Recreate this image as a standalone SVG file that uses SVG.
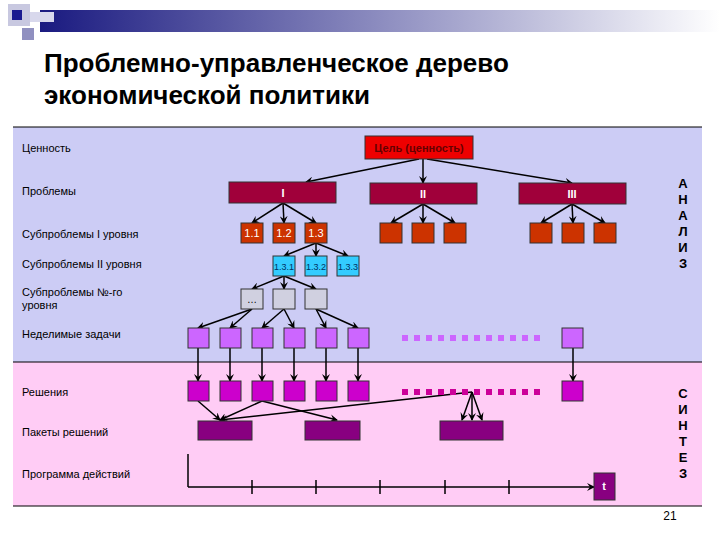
<svg xmlns="http://www.w3.org/2000/svg" width="720" height="540" viewBox="0 0 720 540">
<defs>
<marker id="ah" markerWidth="8" markerHeight="8" refX="7" refY="4" orient="auto" markerUnits="userSpaceOnUse"><path d="M0,0 L8,4 L0,8 L3,4 z" fill="#000"/></marker>
<linearGradient id="bar" x1="0" x2="1"><stop offset="0" stop-color="#1a1a80"/><stop offset="1" stop-color="#ffffff"/></linearGradient>
</defs>
<style>
text{font-family:"Liberation Sans",Arial,sans-serif}
.lab{font-size:11px;fill:#000}
.b{stroke:#333;stroke-width:1}
.lv1{fill:#a0003a}.org{fill:#cc3300}.cy{fill:#33ccff}.gr{fill:#d0d0e0}.p1{fill:#cc66ff}.p2{fill:#cc00cc}.pk{fill:#880080}
.w{fill:#fff;font-size:11px;text-anchor:middle}
.c line{stroke:#000;stroke-width:1.5;fill:none;marker-end:url(#ah)}
.vert{font-size:13px;font-weight:bold;text-anchor:middle}
</style>
<rect width="720" height="540" fill="#fff"/>
<rect x="40" y="10" width="680" height="22" fill="url(#bar)"/>
<rect x="8" y="4" width="22" height="22" fill="#c8c8e0"/>
<rect x="12" y="10" width="10" height="10" fill="#1a1a90"/>
<rect x="22" y="28" width="12" height="12" fill="#9090c0"/>
<rect x="30" y="12" width="24" height="10" fill="#d8d8ec"/>
<text x="44" y="72" font-size="26" font-weight="bold">Проблемно-управленческое дерево</text>
<text x="44" y="104" font-size="26" font-weight="bold">экономической политики</text>
<rect x="13" y="127" width="689" height="235" fill="#ccccf5"/>
<rect x="13" y="362" width="689" height="144" fill="#ffccf5"/>
<line x1="13" y1="127" x2="702" y2="127" stroke="#000"/>
<line x1="13" y1="362" x2="702" y2="362" stroke="#000"/>
<line x1="13" y1="506" x2="702" y2="506" stroke="#000"/>
<g id="labels" class="lab">
<text x="22" y="152">Ценность</text>
<text x="22" y="195">Проблемы</text>
<text x="22" y="238">Субпроблемы I уровня</text>
<text x="22" y="268">Субпроблемы II уровня</text>
<text x="22" y="296">Субпроблемы №-го</text>
<text x="22" y="309">уровня</text>
<text x="22" y="338">Неделимые задачи</text>
<text x="22" y="396">Решения</text>
<text x="22" y="436">Пакеты решений</text>
<text x="22" y="478">Программа действий</text>
</g>
<g id="side">
<text class="vert"><tspan x="683" y="188">А</tspan><tspan x="683" y="204">Н</tspan><tspan x="683" y="220">А</tspan><tspan x="683" y="236">Л</tspan><tspan x="683" y="252">И</tspan><tspan x="683" y="268">З</tspan></text>
<text class="vert"><tspan x="683" y="398">С</tspan><tspan x="683" y="414">И</tspan><tspan x="683" y="430">Н</tspan><tspan x="683" y="446">Т</tspan><tspan x="683" y="462">Е</tspan><tspan x="683" y="478">З</tspan></text>
</g>
<g id="connectors" class="c">
<line x1="419" y1="159" x2="306" y2="182"/><line x1="423" y1="159" x2="423" y2="183"/><line x1="427" y1="159" x2="572" y2="183"/>
<line x1="283" y1="203" x2="252" y2="223"/><line x1="283" y1="203" x2="284" y2="223"/><line x1="283" y1="203" x2="316" y2="223"/>
<line x1="423" y1="204" x2="391" y2="223"/><line x1="423" y1="204" x2="423" y2="223"/><line x1="423" y1="204" x2="455" y2="223"/>
<line x1="572" y1="204" x2="541" y2="223"/><line x1="572" y1="204" x2="573" y2="223"/><line x1="572" y1="204" x2="605" y2="223"/>
<line x1="316" y1="243" x2="284" y2="256"/><line x1="316" y1="243" x2="316" y2="256"/><line x1="316" y1="243" x2="348" y2="256"/>
<line x1="284" y1="276" x2="252" y2="289"/><line x1="284" y1="276" x2="284" y2="289"/><line x1="284" y1="276" x2="316" y2="289"/>
<line x1="252" y1="309" x2="198" y2="328"/><line x1="252" y1="309" x2="230" y2="328"/>
<line x1="284" y1="309" x2="262" y2="328"/><line x1="284" y1="309" x2="294" y2="328"/>
<line x1="316" y1="309" x2="326" y2="328"/><line x1="316" y1="309" x2="358" y2="328"/>
<line x1="198" y1="348" x2="198" y2="381"/><line x1="230" y1="348" x2="230" y2="381"/><line x1="262" y1="348" x2="262" y2="381"/><line x1="294" y1="348" x2="294" y2="381"/><line x1="326" y1="348" x2="326" y2="381"/><line x1="358" y1="348" x2="358" y2="381"/><line x1="573" y1="348" x2="573" y2="381"/>
<line x1="198" y1="401" x2="220" y2="420"/><line x1="262" y1="401" x2="220" y2="420"/><line x1="262" y1="401" x2="337" y2="420"/><line x1="472" y1="392" x2="220" y2="420"/>
<line x1="472" y1="392" x2="462" y2="420"/><line x1="472" y1="392" x2="472" y2="420"/><line x1="472" y1="392" x2="482" y2="420"/>
</g>
<g id="timeline" stroke="#000" stroke-width="1.5">
<line x1="188" y1="454" x2="188" y2="487"/><line x1="188" y1="487" x2="594" y2="487" marker-end="url(#ah)"/>
<line x1="252" y1="480" x2="252" y2="494"/><line x1="316" y1="480" x2="316" y2="494"/><line x1="380" y1="480" x2="380" y2="494"/><line x1="445" y1="480" x2="445" y2="494"/><line x1="509" y1="480" x2="509" y2="494"/>
</g>
<g id="goal"><rect class="b" x="365" y="136" width="108" height="23" fill="#ee0000"/><text x="419" y="152" font-size="11" font-weight="bold" fill="#600" text-anchor="middle">Цель (ценность)</text></g>
<g id="p1"><rect class="b lv1" x="229" y="182" width="107" height="21"/><text class="w" x="283" y="197" font-weight="bold">I</text></g>
<g id="p2"><rect class="b lv1" x="370" y="183" width="107" height="21"/><text class="w" x="423" y="198" font-weight="bold">II</text></g>
<g id="p3"><rect class="b lv1" x="519" y="183" width="107" height="21"/><text class="w" x="572" y="198" font-weight="bold">III</text></g>
<g id="s11"><rect class="b org" x="241" y="223" width="22" height="20"/><text class="w" x="252" y="237">1.1</text></g>
<g id="s12"><rect class="b org" x="273" y="223" width="22" height="20"/><text class="w" x="284" y="237">1.2</text></g>
<g id="s13"><rect class="b org" x="305" y="223" width="22" height="20"/><text class="w" x="316" y="237">1.3</text></g>
<g id="s2x"><rect class="b org" x="380" y="223" width="22" height="20"/><rect class="b org" x="412" y="223" width="22" height="20"/><rect class="b org" x="444" y="223" width="22" height="20"/></g>
<g id="s3x"><rect class="b org" x="530" y="223" width="22" height="20"/><rect class="b org" x="562" y="223" width="22" height="20"/><rect class="b org" x="594" y="223" width="22" height="20"/></g>
<g id="c131"><rect class="b cy" x="273" y="256" width="22" height="20"/><text x="284" y="270" font-size="9" text-anchor="middle" fill="#036">1.3.1</text></g>
<g id="c132"><rect class="b cy" x="305" y="256" width="22" height="20"/><text x="316" y="270" font-size="9" text-anchor="middle" fill="#036">1.3.2</text></g>
<g id="c133"><rect class="b cy" x="337" y="256" width="22" height="20"/><text x="348" y="270" font-size="9" text-anchor="middle" fill="#036">1.3.3</text></g>
<g id="g1"><rect class="b gr" x="241" y="289" width="22" height="20"/><text x="252" y="303" font-size="10" text-anchor="middle">…</text></g>
<g id="g2"><rect class="b gr" x="273" y="289" width="22" height="20"/></g>
<g id="g3"><rect class="b gr" x="305" y="289" width="22" height="20"/></g>
<g id="tasks">
<rect class="b p1" x="188" y="328" width="21" height="20"/><rect class="b p1" x="220" y="328" width="21" height="20"/><rect class="b p1" x="252" y="328" width="21" height="20"/><rect class="b p1" x="284" y="328" width="21" height="20"/><rect class="b p1" x="316" y="328" width="21" height="20"/><rect class="b p1" x="348" y="328" width="21" height="20"/><rect class="b p1" x="562" y="328" width="21" height="20"/>
<line x1="402" y1="338" x2="540" y2="338" stroke="#cc66ff" stroke-width="6" stroke-dasharray="6 6"/>
</g>
<g id="solutions">
<rect class="b p2" x="188" y="381" width="21" height="20"/><rect class="b p2" x="220" y="381" width="21" height="20"/><rect class="b p2" x="252" y="381" width="21" height="20"/><rect class="b p2" x="284" y="381" width="21" height="20"/><rect class="b p2" x="316" y="381" width="21" height="20"/><rect class="b p2" x="348" y="381" width="21" height="20"/><rect class="b p2" x="562" y="381" width="21" height="20"/>
<line x1="402" y1="392" x2="540" y2="392" stroke="#cc0099" stroke-width="6" stroke-dasharray="6 6"/>
</g>
<g id="packages"><rect class="b pk" x="198" y="421" width="54" height="19"/><rect class="b pk" x="305" y="421" width="55" height="19"/><rect class="b pk" x="440" y="421" width="63" height="19"/></g>
<g id="t"><rect class="b pk" x="594" y="473" width="21" height="27"/><text x="604" y="490" font-size="11" font-weight="bold" fill="#fff" text-anchor="middle">t</text></g>
<text x="670" y="520" font-size="12" text-anchor="middle">21</text>
</svg>
